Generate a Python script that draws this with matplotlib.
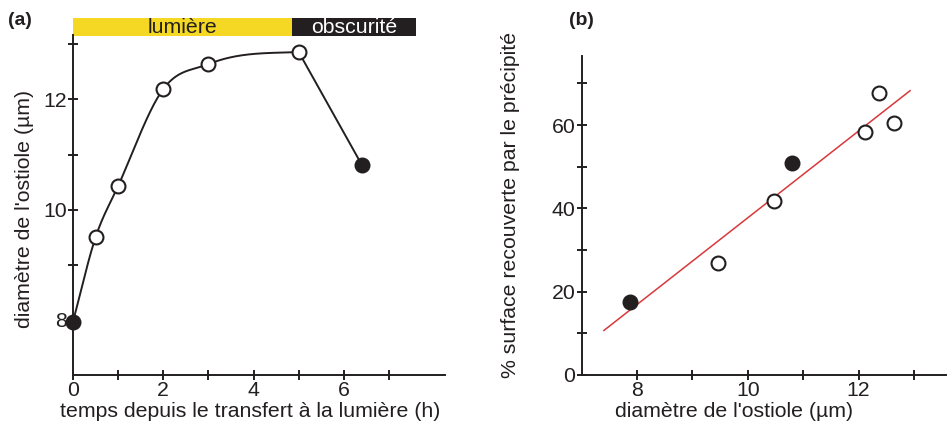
import numpy as np
import matplotlib.pyplot as plt
from matplotlib.patches import Rectangle

plt.rcParams['font.family'] = ['Liberation Sans', 'DejaVu Sans']

# panel (a): ostiole diameter vs time
temps = [0, 0.5, 1, 2, 3, 5, 6.4]
diametre = [7.97, 9.5, 10.43, 12.19, 12.64, 12.86, 10.81]
rempli_a = [True, False, False, False, False, False, True]
n_lumiere = 6  # points linked by the smooth curve (light period)
periodes = ['lumière', 'obscurité']
periode_debut = [0, 4.85]
periode_fin = [4.85, 7.6]
periode_couleur = ['#f5d823', '#231f20']
periode_texte = ['#231f20', 'white']

# panel (b): precipitate vs ostiole diameter
diam_b = [7.88, 9.47, 10.48, 10.79, 12.12, 12.36, 12.64]
surface = [17.5, 27.0, 41.8, 51.0, 58.4, 67.8, 60.6]
rempli_b = [True, False, False, True, False, False, False]
fit_range = [7.4, 12.93]


def hermite(x, y, xs):
    # smooth curve through the points, three-point slopes
    x = np.asarray(x, float)
    y = np.asarray(y, float)
    h = np.diff(x)
    d = np.diff(y) / h
    m = np.zeros_like(y)
    for k in range(1, len(x) - 1):
        m[k] = (h[k] * d[k - 1] + h[k - 1] * d[k]) / (h[k - 1] + h[k])
    m[0] = d[0]
    m[-1] = d[-1] * 0.3
    idx = np.clip(np.searchsorted(x, xs) - 1, 0, len(x) - 2)
    t = (xs - x[idx]) / h[idx]
    h00 = 2 * t**3 - 3 * t**2 + 1
    h10 = t**3 - 2 * t**2 + t
    h01 = -2 * t**3 + 3 * t**2
    h11 = t**3 - t**2
    return h00 * y[idx] + h10 * h[idx] * m[idx] + h01 * y[idx + 1] + h11 * h[idx] * m[idx + 1]


fig = plt.figure(figsize=(9.47, 4.22), dpi=100)
ax1 = fig.add_axes([0.0771, 0.1114, 0.3928, 0.8057])
ax2 = fig.add_axes([0.6143, 0.1114, 0.3847, 0.7559])

fs = 15.3
for ax in (ax1, ax2):
    for s in ('top', 'right'):
        ax.spines[s].set_visible(False)
    for s in ('left', 'bottom'):
        ax.spines[s].set_linewidth(1.4)
        ax.spines[s].set_color('#231f20')
    ax.tick_params(which='both', direction='inout', length=7, width=1.4,
                   labelsize=fs, color='#231f20', labelcolor='#231f20', pad=1)

# (a)
xs = np.linspace(temps[0], temps[n_lumiere - 1], 300)
ax1.plot(xs, hermite(temps[:n_lumiere], diametre[:n_lumiere], xs), color='#231f20', lw=1.4)
ax1.plot(temps[n_lumiere - 1:], diametre[n_lumiere - 1:], color='#231f20', lw=1.4)
for x, y, f in zip(temps, diametre, rempli_a):
    ax1.plot(x, y, 'o', ms=10, mew=1.5, mec='#231f20',
             mfc='#231f20' if f else 'white', clip_on=False, zorder=5)
ax1.set_xlim(0, 8.24)
ax1.set_ylim(7, 13.17)
ax1.set_xticks(range(0, 8))
ax1.set_xticklabels(['0', '', '2', '', '4', '', '6', ''])
ax1.set_yticks([8, 10, 12])
ax1.set_yticks([9, 11, 13], minor=True)
ax1.set_xlabel('temps depuis le transfert à la lumière (h)', fontsize=fs, color='#231f20')
ax1.set_ylabel("diamètre de l'ostiole (µm)", fontsize=fs, color='#231f20')
ax1.xaxis.set_label_coords(0.476, -0.08)
ax1.yaxis.set_label_coords(-0.104, 0.488)

tr = ax1.get_xaxis_transform()
for nom, a, b, c, tc in zip(periodes, periode_debut, periode_fin, periode_couleur, periode_texte):
    ax1.add_patch(Rectangle((a, 0.997), b - a, 0.053, transform=tr, facecolor=c,
                            edgecolor='none', clip_on=False))
    ax1.text((a + b) / 2, 1.021, nom, transform=tr, ha='center', va='center',
             fontsize=fs, color=tc)

fig.text(0.008, 0.94, '(a)', fontsize=14, fontweight='bold', color='#231f20')
fig.text(0.601, 0.94, '(b)', fontsize=14, fontweight='bold', color='#231f20')

# (b)
pente, orig = np.polyfit(diam_b, surface, 1)
fx = np.array(fit_range)
ax2.plot(fx, pente * fx + orig, color='#d9383a', lw=1.1)
for x, y, f in zip(diam_b, surface, rempli_b):
    ax2.plot(x, y, 'o', ms=10, mew=1.5, mec='#231f20',
             mfc='#231f20' if f else 'white', zorder=5)
ax2.set_xlim(7, 13.58)
ax2.set_ylim(0, 76.6)
ax2.set_xticks([8, 10, 12])
ax2.set_xticks([9, 11, 13], minor=True)
ax2.set_yticks([0, 20, 40, 60])
ax2.set_yticks([10, 30, 50, 70], minor=True)
ax2.set_xlabel("diamètre de l'ostiole (µm)", fontsize=fs, color='#231f20')
ax2.set_ylabel('% surface recouverte par le précipité', fontsize=fs, color='#231f20')
ax2.xaxis.set_label_coords(0.418, -0.086)
ax2.yaxis.set_label_coords(-0.17, 0.533)

fig.savefig('out.png', dpi=100)
